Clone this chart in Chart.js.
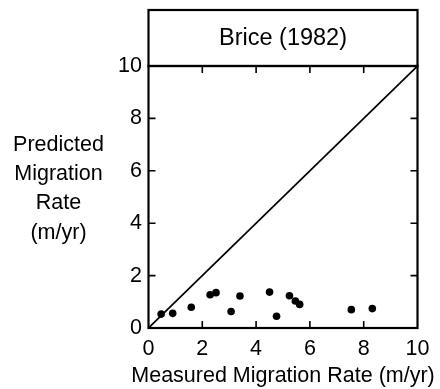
<!DOCTYPE html>
<html><head><meta charset="utf-8">
<script src="https://cdn.jsdelivr.net/npm/chart.js@4"></script>
<style>html,body{margin:0;padding:0;background:#fff}</style>
</head><body>
<canvas id="c" width="440" height="389" style="width:440px;height:389px;display:block"></canvas>
<script>
const measured  = [0.47, 0.90, 1.59, 2.29, 2.51, 3.07, 3.40, 4.50, 4.76, 5.24, 5.46, 5.62, 7.54, 8.32];
const predicted = [0.53, 0.56, 0.79, 1.27, 1.35, 0.63, 1.22, 1.37, 0.45, 1.23, 1.03, 0.90, 0.70, 0.74];
const lineX = [0, 10];
const lineY = [0, 10];
const tickValues = [0, 2, 4, 6, 8, 10];
const chartTitle = 'Brice (1982)';
const xTitle = 'Measured Migration Rate (m/yr)';
const yTitleLines = ['Predicted', 'Migration', 'Rate', '(m/yr)'];

const FONT = '"Liberation Sans", Arial, sans-serif';

const framePlugin = {
  id: 'frame',
  afterDraw(chart) {
    const ctx = chart.ctx, a = chart.chartArea;
    const xs = chart.scales.x, ys = chart.scales.y;
    ctx.save();
    ctx.strokeStyle = '#000';
    ctx.lineWidth = 2.2;
    ctx.strokeRect(a.left, a.top, a.right - a.left, a.bottom - a.top);
    ctx.strokeRect(a.left, 10, a.right - a.left, a.top - 10);
    ctx.lineWidth = 1.6;
    const tl = 7;
    ctx.beginPath();
    tickValues.slice(1, -1).forEach(v => {
      const px = xs.getPixelForValue(v);
      ctx.moveTo(px, a.bottom); ctx.lineTo(px, a.bottom - tl);
      ctx.moveTo(px, a.top); ctx.lineTo(px, a.top + tl);
      const py = ys.getPixelForValue(v);
      ctx.moveTo(a.left, py); ctx.lineTo(a.left + tl, py);
      ctx.moveTo(a.right, py); ctx.lineTo(a.right - tl, py);
    });
    ctx.stroke();
    ctx.fillStyle = '#000';
    ctx.font = '21.5px ' + FONT;
    ctx.textAlign = 'center';
    ctx.textBaseline = 'alphabetic';
    yTitleLines.forEach((t, i) => ctx.fillText(t, 58.5, a.top + 85 + i * 29.2));
    ctx.fillText(xTitle, (a.left + a.right) / 2, 382);
    ctx.restore();
  }
};

new Chart(document.getElementById('c'), {
  data: {
    datasets: [
      {
        type: 'line',
        data: lineX.map((x, i) => ({x, y: lineY[i]})),
        borderColor: '#000',
        borderWidth: 1.7,
        pointRadius: 0,
        fill: false
      },
      {
        type: 'scatter',
        data: measured.map((x, i) => ({x, y: predicted[i]})),
        backgroundColor: '#000',
        borderWidth: 0,
        pointRadius: 3.8
      }
    ]
  },
  options: {
    responsive: false,
    animation: false,
    devicePixelRatio: 1,
    layout: { padding: { left: 108.5, top: 10, right: 22.5, bottom: 0 } },
    plugins: {
      legend: { display: false },
      tooltip: { enabled: false },
      title: {
        display: true,
        text: chartTitle,
        fullSize: false,
        color: '#000',
        font: { family: FONT, size: 23.5, weight: 'normal', lineHeight: 1.2 },
        padding: { top: 14, bottom: 13.8 }
      }
    },
    scales: {
      x: {
        type: 'linear', min: 0, max: 10,
        afterBuildTicks: s => { s.ticks = tickValues.map(v => ({value: v})); },
        ticks: { color: '#000', font: { family: FONT, size: 21.5 }, padding: 8, maxRotation: 0 },
        grid: { display: false, drawTicks: false },
        border: { display: false },
        title: { display: false, text: xTitle },
        afterFit: s => { s.height = 61; }
      },
      y: {
        type: 'linear', min: 0, max: 10,
        afterBuildTicks: s => { s.ticks = tickValues.map(v => ({value: v})); },
        ticks: { color: '#000', font: { family: FONT, size: 21.5 }, padding: 6.5 },
        grid: { display: false, drawTicks: false },
        border: { display: false },
        afterFit: s => { s.width = 40; }
      }
    }
  },
  plugins: [framePlugin]
});
</script>
</body></html>
